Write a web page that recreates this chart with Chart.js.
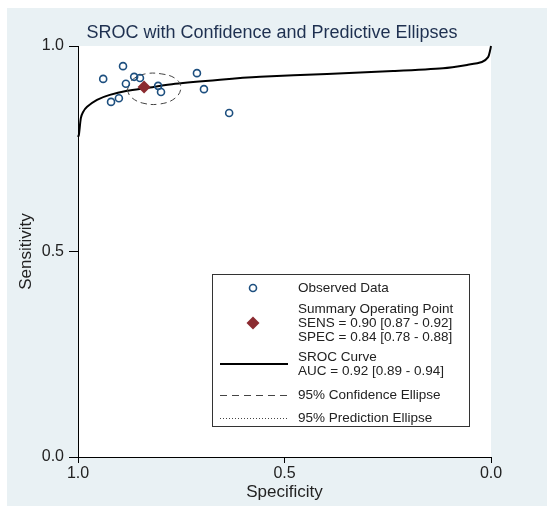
<!DOCTYPE html>
<html>
<head>
<meta charset="utf-8">
<title>SROC with Confidence and Predictive Ellipses</title>
<script src="https://cdn.jsdelivr.net/npm/chart.js@4.4.1/dist/chart.umd.min.js"></script>
<style>
  html, body { margin: 0; padding: 0; background: #ffffff; }
  #wrap { position: relative; width: 547px; height: 506px; }
</style>
</head>
<body>
<div id="wrap"><canvas id="sroc" width="547" height="506"></canvas></div>
<script>
// Observed studies
const observedSpec = [0.939, 0.891, 0.864, 0.850, 0.884, 0.920, 0.901, 0.806, 0.799, 0.712, 0.695, 0.634];
const observedSens = [0.920, 0.951, 0.925, 0.922, 0.908, 0.864, 0.873, 0.903, 0.888, 0.934, 0.895, 0.837];

// Summary operating point
const summarySpec = [0.84];
const summarySens = [0.90];

// SROC curve
const curveSpec = [1.000, 0.998, 0.993, 0.988, 0.978, 0.954, 0.923, 0.881, 0.833, 0.765, 0.656, 0.559, 0.397, 0.237, 0.116, 0.058, 0.022, 0.007, 0.002, 0.000];
const curveSens = [0.779, 0.783, 0.825, 0.839, 0.852, 0.869, 0.881, 0.891, 0.898, 0.908, 0.918, 0.925, 0.932, 0.939, 0.946, 0.954, 0.961, 0.973, 0.990, 1.000];

// 95% confidence ellipse outline
const ellipseSpec = [0.881, 0.869, 0.838, 0.797, 0.763, 0.751, 0.765, 0.801, 0.843, 0.872, 0.881];
const ellipseSens = [0.893, 0.917, 0.932, 0.932, 0.920, 0.898, 0.873, 0.859, 0.861, 0.876, 0.893];

// Axis ticks
const tickValues = [0, 0.5, 1];

// Legend lines
const legendSummary = ['Summary Operating Point', 'SENS = 0.90 [0.87 - 0.92]', 'SPEC = 0.84 [0.78 - 0.88]'];
const legendCurve = ['SROC Curve', 'AUC = 0.92 [0.89 - 0.94]'];

const FONT = "'Liberation Sans', Arial, sans-serif";
const TEXT = '#222222';
const DOT = '#1d4f7f';
const DIAMOND = '#8b2b30';

const toPoints = (xs, ys) => xs.map((x, i) => ({ x: x, y: ys[i] }));

// background, plot area, title and legend box
const frame = {
  id: 'frame',
  beforeDraw(chart) {
    const { ctx, chartArea: a } = chart;
    ctx.save();
    ctx.fillStyle = '#e9f1f4';
    ctx.fillRect(7, 8, 540, 498);
    ctx.fillStyle = '#ffffff';
    ctx.fillRect(a.left, a.top, a.right - a.left, a.bottom - a.top);
    ctx.restore();
  },
  afterDraw(chart) {
    const ctx = chart.ctx;
    ctx.save();

    // title
    ctx.fillStyle = '#1e3050';
    ctx.font = '18px ' + FONT;
    ctx.textAlign = 'center';
    ctx.textBaseline = 'middle';
    ctx.fillText('SROC with Confidence and Predictive Ellipses', 272, 33);

    // legend box
    ctx.fillStyle = '#ffffff';
    ctx.fillRect(212, 274, 257, 152);
    ctx.strokeStyle = '#333333';
    ctx.lineWidth = 1;
    ctx.strokeRect(212.5, 274.5, 257, 152);

    const mx = 253, tx = 298;

    // observed data marker
    ctx.strokeStyle = DOT;
    ctx.lineWidth = 1.6;
    ctx.beginPath();
    ctx.arc(mx, 288, 3.5, 0, Math.PI * 2);
    ctx.stroke();

    // summary diamond
    ctx.fillStyle = DIAMOND;
    ctx.beginPath();
    ctx.moveTo(mx, 316.5);
    ctx.lineTo(mx + 6.5, 323);
    ctx.lineTo(mx, 329.5);
    ctx.lineTo(mx - 6.5, 323);
    ctx.closePath();
    ctx.fill();

    // curve sample
    ctx.strokeStyle = '#000000';
    ctx.lineWidth = 2;
    ctx.beginPath();
    ctx.moveTo(220, 364);
    ctx.lineTo(288, 364);
    ctx.stroke();

    // confidence ellipse sample
    ctx.strokeStyle = '#444444';
    ctx.lineWidth = 1;
    ctx.setLineDash([7, 5]);
    ctx.beginPath();
    ctx.moveTo(220, 395.5);
    ctx.lineTo(288, 395.5);
    ctx.stroke();

    // prediction ellipse sample
    ctx.setLineDash([1, 2]);
    ctx.beginPath();
    ctx.moveTo(220, 418.5);
    ctx.lineTo(288, 418.5);
    ctx.stroke();
    ctx.setLineDash([]);

    ctx.fillStyle = TEXT;
    ctx.font = '13.5px ' + FONT;
    ctx.textAlign = 'left';
    ctx.textBaseline = 'middle';
    ctx.fillText('Observed Data', tx, 288);
    legendSummary.forEach((t, i) => ctx.fillText(t, tx, 309 + i * 14));
    legendCurve.forEach((t, i) => ctx.fillText(t, tx, 357 + i * 14));
    ctx.fillText('95% Confidence Ellipse', tx, 395);
    ctx.fillText('95% Prediction Ellipse', tx, 418);

    ctx.restore();
  }
};

const axisCommon = {
  type: 'linear',
  min: 0,
  max: 1,
  afterBuildTicks: scale => { scale.ticks = tickValues.map(v => ({ value: v })); },
  ticks: {
    color: TEXT,
    font: { family: FONT, size: 16 },
    callback: v => Number(v).toFixed(1)
  },
  border: { display: true, color: '#000000', width: 1 },
  title: {
    display: true,
    color: TEXT,
    font: { family: FONT, size: 17 }
  }
};

new Chart(document.getElementById('sroc'), {
  type: 'scatter',
  data: {
    datasets: [
      {
        label: 'Observed Data',
        data: toPoints(observedSpec, observedSens),
        pointStyle: 'circle',
        pointRadius: 3.5,
        pointBorderWidth: 1.6,
        pointBorderColor: DOT,
        pointBackgroundColor: 'rgba(0,0,0,0)',
        order: 0
      },
      {
        label: 'Summary Operating Point',
        data: toPoints(summarySpec, summarySens),
        pointStyle: 'rectRot',
        pointRadius: 6.5,
        pointBorderWidth: 0,
        pointBackgroundColor: DIAMOND,
        pointBorderColor: DIAMOND,
        order: 1
      },
      {
        label: '95% Confidence Ellipse',
        data: toPoints(ellipseSpec, ellipseSens),
        showLine: true,
        pointRadius: 0,
        borderColor: '#444444',
        borderWidth: 1,
        borderDash: [6, 4],
        tension: 0.4,
        fill: false,
        order: 2
      },
      {
        label: 'SROC Curve',
        data: toPoints(curveSpec, curveSens),
        showLine: true,
        pointRadius: 0,
        borderColor: '#000000',
        borderWidth: 2,
        tension: 0.25,
        fill: false,
        clip: 4,
        order: 3
      }
    ]
  },
  options: {
    responsive: false,
    devicePixelRatio: 1,
    animation: false,
    events: [],
    layout: { padding: { left: 0, top: 46, right: 56, bottom: 0 } },
    plugins: {
      legend: { display: false },
      tooltip: { enabled: false },
      title: { display: false }
    },
    scales: {
      x: {
        ...axisCommon,
        reverse: true,
        afterFit: scale => { scale.height = 49; },
        grid: { drawOnChartArea: false, drawTicks: true, tickLength: 6, color: '#000000' },
        ticks: { ...axisCommon.ticks, padding: 1, maxRotation: 0 },
        title: { ...axisCommon.title, text: 'Specificity', padding: { top: 0, bottom: 3 } }
      },
      y: {
        ...axisCommon,
        afterFit: scale => { scale.width = 78; },
        grid: { drawOnChartArea: false, drawTicks: true, tickLength: 9, color: '#000000' },
        ticks: { ...axisCommon.ticks, padding: 5 },
        title: { ...axisCommon.title, text: 'Sensitivity', padding: { top: 16, bottom: 0 } }
      }
    }
  },
  plugins: [frame]
});
</script>
</body>
</html>
